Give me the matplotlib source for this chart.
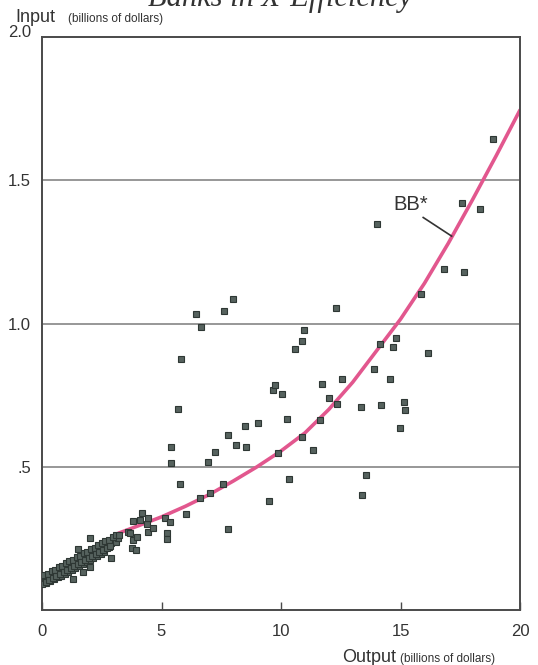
import matplotlib
matplotlib.use("Agg")
import matplotlib.pyplot as plt

# bank data (output, input in billions of dollars)
# dense band of small banks
band_x = [0.02, 0.05, 0.08, 0.1, 0.12, 0.15, 0.18, 0.2, 0.22, 0.25, 0.28, 0.3, 0.35, 0.4,
          0.45, 0.5, 0.55, 0.6, 0.65, 0.7, 0.75, 0.8, 0.85, 0.9, 0.95, 1.0, 1.05, 1.1,
          1.15, 1.2, 1.25, 1.3, 1.35, 1.4, 1.45, 1.5, 1.55, 1.6, 1.65, 1.7, 1.75, 1.8,
          1.85, 1.9, 1.95, 2.0, 2.05, 2.1, 2.15, 2.2, 2.25, 2.3, 2.35, 2.4, 2.45, 2.5,
          2.55, 2.6, 2.65, 2.7, 2.8, 2.9, 3.0, 3.1, 3.2]
band_y = [0.105, 0.100, 0.095, 0.108, 0.102, 0.095, 0.098, 0.112, 0.106, 0.103, 0.108, 0.118,
          0.100, 0.112, 0.124, 0.107, 0.118, 0.130, 0.114, 0.124, 0.136, 0.120, 0.130, 0.144,
          0.126, 0.136, 0.150, 0.132, 0.142, 0.155, 0.140, 0.150, 0.163, 0.146, 0.158, 0.170,
          0.154, 0.166, 0.178, 0.161, 0.172, 0.184, 0.167, 0.178, 0.191, 0.175, 0.187, 0.199,
          0.182, 0.193, 0.205, 0.189, 0.201, 0.212, 0.196, 0.208, 0.219, 0.204, 0.215, 0.226,
          0.221, 0.233, 0.242, 0.238, 0.252]
band_hi_x = [0.1, 0.25, 0.4, 0.55, 0.7, 0.85, 1.0, 1.15, 1.3, 1.45, 1.6, 1.75, 1.9, 2.05,
             2.2, 2.35, 2.5, 2.65, 2.8, 2.95, 3.1]
band_hi_y = [0.121, 0.126, 0.137, 0.140, 0.150, 0.155, 0.163, 0.172, 0.176, 0.186, 0.190,
             0.199, 0.204, 0.213, 0.218, 0.228, 0.233, 0.242, 0.246, 0.256, 0.262]
band_lo_x = [0.0, 0.15, 0.3, 0.45, 0.6, 0.75, 0.9, 1.05, 1.2, 1.35, 1.5, 1.65, 1.8, 1.95,
             2.1, 2.25, 2.4, 2.55, 2.7, 2.85]
band_lo_y = [0.092, 0.097, 0.103, 0.112, 0.117, 0.126, 0.131, 0.140, 0.145, 0.154, 0.159,
             0.169, 0.174, 0.183, 0.188, 0.197, 0.202, 0.211, 0.216, 0.225]

# larger banks, scattered
spread_x = [2.0, 1.49, 1.31, 2.89, 1.73, 2.0, 3.24, 3.58, 3.68, 3.82, 3.96, 3.75, 3.93,
            3.82, 4.10, 4.17, 4.38, 4.45, 4.45, 4.66, 5.15, 5.36, 5.22, 5.24,
            5.79, 6.04, 6.62, 7.03, 7.56, 7.77, 5.38, 5.38, 5.70, 5.80, 6.43, 6.67,
            7.63, 7.99, 6.93, 7.24, 7.80, 8.12, 8.55, 8.51, 9.04, 9.49, 9.65, 9.74,
            9.89, 10.03, 10.25, 10.35, 10.59, 10.86, 10.89, 10.96, 11.35, 11.62, 11.73,
            12.0, 12.31, 12.33, 12.57, 13.35, 13.39, 13.57, 13.88, 14.0, 14.14, 14.20,
            14.57, 14.67, 14.82, 14.97, 15.15, 15.17, 15.86, 16.15, 16.83, 17.59, 17.66,
            18.31, 18.85]
spread_y = [0.250, 0.212, 0.107, 0.183, 0.134, 0.151, 0.262, 0.273, 0.268, 0.244, 0.256,
            0.215, 0.209, 0.311, 0.314, 0.337, 0.300, 0.320, 0.273, 0.285, 0.320, 0.308,
            0.268, 0.247, 0.439, 0.336, 0.390, 0.408, 0.440, 0.282, 0.570, 0.512, 0.703,
            0.876, 1.033, 0.988, 1.045, 1.084, 0.518, 0.553, 0.612, 0.577, 0.570, 0.642,
            0.652, 0.380, 0.767, 0.784, 0.547, 0.755, 0.668, 0.457, 0.910, 0.940, 0.604,
            0.976, 0.557, 0.663, 0.789, 0.739, 1.053, 0.719, 0.806, 0.707, 0.401, 0.471,
            0.840, 1.347, 0.928, 0.716, 0.807, 0.917, 0.948, 0.636, 0.725, 0.698, 1.103,
            0.897, 1.191, 1.422, 1.181, 1.400, 1.643]

# best-practice frontier BB*
curve_x = [3.2, 4.0, 5.0, 6.0, 7.0, 8.0, 9.0, 10.0, 11.0, 12.0, 13.0, 14.0, 15.0, 16.0,
           17.0, 18.0, 19.0, 20.0]
curve_y = [0.268, 0.293, 0.325, 0.362, 0.403, 0.450, 0.500, 0.555, 0.618, 0.700, 0.795,
           0.905, 1.015, 1.140, 1.280, 1.430, 1.585, 1.745]

y_ticks = [0.5, 1.0, 1.5, 2.0]
y_labels = [".5", "1.0", "1.5", "2.0"]
x_ticks = [0, 5, 10, 15, 20]
x_labels = ["0", "5", "10", "15", "20"]

plt.rcParams["font.family"] = ["Liberation Sans", "DejaVu Sans"]

fig = plt.figure(figsize=(5.38, 6.65), dpi=100)
ax = fig.add_axes([42 / 538, 55 / 665, 478 / 538, 573 / 665])

axis_col = "#4a4a4a"
for g in [0.5, 1.0, 1.5]:
    ax.axhline(g, color="#7a7a7a", lw=1.1, zorder=1)

ax.plot(curve_x, curve_y, color="#e2578e", lw=2.6, zorder=2, solid_capstyle="round",
        solid_joinstyle="round")

mk = dict(marker="s", linestyle="none", markersize=3.8, markerfacecolor="#56625e",
          markeredgecolor="#2e3734", markeredgewidth=0.8, zorder=3)
ax.plot(band_x, band_y, **mk)
ax.plot(band_hi_x, band_hi_y, **mk)
ax.plot(band_lo_x, band_lo_y, **mk)
ax.plot(spread_x, spread_y, **mk)

# BB* label with leader line
ax.text(14.69, 1.414, "BB*", fontsize=14.5, color="#333333", ha="left", va="center")
ax.plot([15.95, 17.14], [1.370, 1.305], color="#333333", lw=1.2, zorder=2)

ax.set_xlim(0, 20)
ax.set_ylim(0, 2.0)
ax.set_xticks(x_ticks)
ax.set_xticklabels(x_labels)
ax.set_yticks(y_ticks)
ax.set_yticklabels(y_labels)
ax.tick_params(axis="x", direction="in", length=6, width=1, color=axis_col,
               pad=10, labelsize=12, labelcolor="#333333")
ax.tick_params(axis="y", length=0, pad=8, labelsize=12, labelcolor="#333333")
ax.get_yticklabels()[-1].set_va("baseline")

for s in ax.spines.values():
    s.set_color(axis_col)
    s.set_linewidth(1.4)

# axis titles
fig.text(15 / 538, 1 - 22 / 665, "Input", fontsize=13, color="#333333", va="baseline")
fig.text(68 / 538, 1 - 22 / 665, "(billions of dollars)", fontsize=8.5, color="#333333",
         va="baseline")
fig.text(342 / 538, 3 / 665, "Output", fontsize=13, color="#333333", va="baseline")
fig.text(400 / 538, 3 / 665, "(billions of dollars)", fontsize=8.5, color="#333333",
         va="baseline")

# title, cropped at the top edge of the scan
fig.text(280 / 538, 1 - 6 / 665, "Banks in X-Efficiency", fontsize=22, style="italic",
         family="Liberation Serif", color="#333333", ha="center", va="baseline")

fig.savefig("out.png", dpi=100)
